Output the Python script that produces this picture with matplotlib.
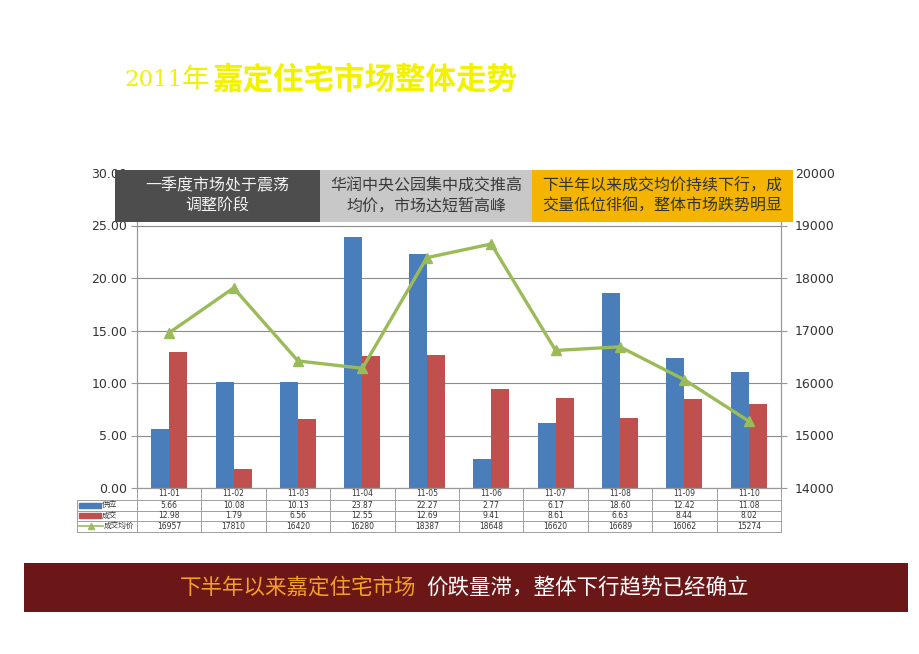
import matplotlib
matplotlib.use("Agg")
import matplotlib.pyplot as plt
from matplotlib.patches import Rectangle
from matplotlib.lines import Line2D
import matplotlib.transforms as mtrans

plt.rcParams['font.family'] = ['DejaVu Sans', 'Noto Sans CJK SC']

# ---------------- data ----------------
months = ["11-01", "11-02", "11-03", "11-04", "11-05", "11-06", "11-07", "11-08", "11-09", "11-10"]
supply = [5.66, 10.08, 10.13, 23.87, 22.27, 2.77, 6.17, 18.60, 12.42, 11.08]
deals = [12.98, 1.79, 6.56, 12.55, 12.69, 9.41, 8.61, 6.63, 8.44, 8.02]
avg_price = [16957, 17810, 16420, 16280, 18387, 18648, 16620, 16689, 16062, 15274]
series_names = ["供应", "成交", "成交均价"]
left_ticks = [0, 5, 10, 15, 20, 25, 30]
right_ticks = [14000, 15000, 16000, 17000, 18000, 19000, 20000]
title_a = "2011年"
title_b = "嘉定住宅市场整体走势"
box_texts = ["一季度市场处于震荡\n调整阶段",
             "华润中央公园集中成交推高\n均价，市场达短暂高峰",
             "下半年以来成交均价持续下行，成\n交量低位徘徊，整体市场跌势明显"]
banner_a = "下半年以来嘉定住宅市场"
banner_b = "价跌量滞，整体下行趋势已经确立"

# ---------------- style ----------------
W, H = 920, 654
BLUE = "#4a7ebb"
RED = "#c0504d"
GREEN = "#9bbb59"
GRID = "#8c8c8c"
TXT = "#333333"
CJK = ['Noto Sans CJK SC', 'DejaVu Sans']

fig = plt.figure(figsize=(W / 100, H / 100), dpi=100)
fig.patch.set_facecolor("white")

def fx(px):
    return px / W

def fy(py):
    return 1 - py / H

ax_l, ax_r, ax_t, ax_b = 137, 781, 173, 488
ax = fig.add_axes([fx(ax_l), fy(ax_b), fx(ax_r - ax_l), (ax_b - ax_t) / H])
n = len(months)
x = list(range(n))
bw = 0.28
ax.bar([i - 0.14 for i in x], supply, width=bw, color=BLUE, zorder=2)
ax.bar([i + 0.14 for i in x], deals, width=bw, color=RED, zorder=2)
ax.set_xlim(-0.5, n - 0.5)
ax.set_ylim(0, 30)
ax.set_yticks(left_ticks)
ax.set_yticklabels([f"{v:.2f}" for v in left_ticks])
ax.set_xticks([])
ax.yaxis.grid(True, color=GRID, linewidth=0.8)
ax.set_axisbelow(True)
ax.spines["top"].set_visible(False)
for s in ["left", "right", "bottom"]:
    ax.spines[s].set_color("#999999")
    ax.spines[s].set_linewidth(0.8)
ax.tick_params(axis="y", colors="#999999", labelcolor=TXT, labelsize=9, length=4, width=0.8, pad=3)

ax2 = ax.twinx()
ax2.plot(x, avg_price, color=GREEN, linewidth=2.4, marker="^", markersize=7,
         markerfacecolor=GREEN, markeredgecolor=GREEN, zorder=3)
ax2.set_ylim(14000, 20000)
ax2.set_yticks(right_ticks)
ax2.set_yticklabels([str(v) for v in right_ticks])
ax2.spines["top"].set_visible(False)
for s in ["left", "right", "bottom"]:
    ax2.spines[s].set_color("#999999")
    ax2.spines[s].set_linewidth(0.8)
ax2.tick_params(axis="y", colors="#999999", labelcolor=TXT, labelsize=9, length=4, width=0.8, pad=6)

# ---------------- data table ----------------
axh = ax_b - ax_t
def ay(py):
    return (ax_b - py) / axh

tr = mtrans.blended_transform_factory(ax.transData, ax.transAxes)
row_edges = [488, 500, 510.5, 521, 531.5]
label_x = -0.5 - (ax_l - 77) / ((ax_r - ax_l) / n)
lc = "#a0a0a0"
lw = 0.7
for k, yy in enumerate(row_edges):
    x0 = -0.5 if k == 0 else label_x
    ax.add_line(Line2D([x0, n - 0.5], [ay(yy), ay(yy)], transform=tr, color=lc, lw=lw, clip_on=False))
for i in range(n + 1):
    ax.add_line(Line2D([i - 0.5, i - 0.5], [ay(row_edges[0]), ay(row_edges[-1])], transform=tr,
                       color=lc, lw=lw, clip_on=False))
ax.add_line(Line2D([label_x, label_x], [ay(row_edges[1]), ay(row_edges[-1])], transform=tr,
                   color=lc, lw=lw, clip_on=False))

def cell_y(r):
    return ay((row_edges[r] + row_edges[r + 1]) / 2)

tfs = 5.5
for i in range(n):
    ax.text(i, cell_y(0), months[i], transform=tr, ha="center", va="center", fontsize=tfs, color=TXT)
    ax.text(i, cell_y(1), f"{supply[i]:.2f}", transform=tr, ha="center", va="center", fontsize=tfs, color=TXT)
    ax.text(i, cell_y(2), f"{deals[i]:.2f}", transform=tr, ha="center", va="center", fontsize=tfs, color=TXT)
    ax.text(i, cell_y(3), f"{avg_price[i]}", transform=tr, ha="center", va="center", fontsize=tfs, color=TXT)

slot_px = (ax_r - ax_l) / n
def dx(px):
    return -0.5 - (ax_l - px) / slot_px

for r, col in [(1, BLUE), (2, RED)]:
    yc = cell_y(r)
    ax.add_patch(Rectangle((dx(79), yc - 0.008), dx(101) - dx(79), 0.016, transform=tr,
                           color=col, clip_on=False))
yc = cell_y(3)
ax.add_line(Line2D([dx(79), dx(103)], [yc, yc], transform=tr, color=GREEN, lw=1.2, clip_on=False))
ax.add_line(Line2D([dx(91)], [yc], transform=tr, color=GREEN, marker="^", markersize=4, clip_on=False))
ax.text(dx(102), cell_y(1), series_names[0], transform=tr, ha="left", va="center", fontsize=tfs, color=TXT, family=CJK)
ax.text(dx(102), cell_y(2), series_names[1], transform=tr, ha="left", va="center", fontsize=tfs, color=TXT, family=CJK)
ax.text(dx(104), cell_y(3), series_names[2], transform=tr, ha="left", va="center", fontsize=tfs, color=TXT, family=CJK)

# ---------------- annotation boxes ----------------
box_top, box_bot = 170, 222
boxes = [(115, 320, "#4d4d4d", "#f2f2f2"),
         (320, 532, "#c8c8c8", "#3a3a3a"),
         (532, 793, "#f5b400", "#333333")]
for (x0, x1, fc, tc), t in zip(boxes, box_texts):
    fig.add_artist(Rectangle((fx(x0), fy(box_bot)), fx(x1 - x0), (box_bot - box_top) / H,
                             transform=fig.transFigure, facecolor=fc, edgecolor="none", zorder=5))
    fig.text(fx((x0 + x1) / 2), fy((box_top + box_bot) / 2), t, ha="center", va="center",
             fontsize=11.5, color=tc, family=CJK, linespacing=1.25, zorder=6)

# ---------------- title ----------------
TY = "#f2f200"
fig.text(fx(124), fy(80), title_a[:4], ha="left", va="center", fontsize=16.5, color=TY,
         family=['DejaVu Serif', 'Noto Sans CJK SC'])
fig.text(fx(182), fy(80), title_a[4:], ha="left", va="center", fontsize=20, color=TY,
         family=CJK)
fig.text(fx(212), fy(80), title_b, ha="left", va="center", fontsize=22, color=TY,
         family=CJK, fontweight="bold")

# ---------------- banner ----------------
fig.add_artist(Rectangle((fx(24), fy(612)), fx(908 - 24), (612 - 563) / H,
                         transform=fig.transFigure, facecolor="#6b1717", edgecolor="none", zorder=5))
fig.text(fx(180), fy(588), banner_a, ha="left", va="center", fontsize=15.5, color="#f5a021",
         family=CJK, zorder=6)
fig.text(fx(426), fy(588), banner_b, ha="left", va="center", fontsize=15.5, color="#ffffff",
         family=CJK, zorder=6)

fig.savefig("out.png", dpi=100, facecolor="white")
